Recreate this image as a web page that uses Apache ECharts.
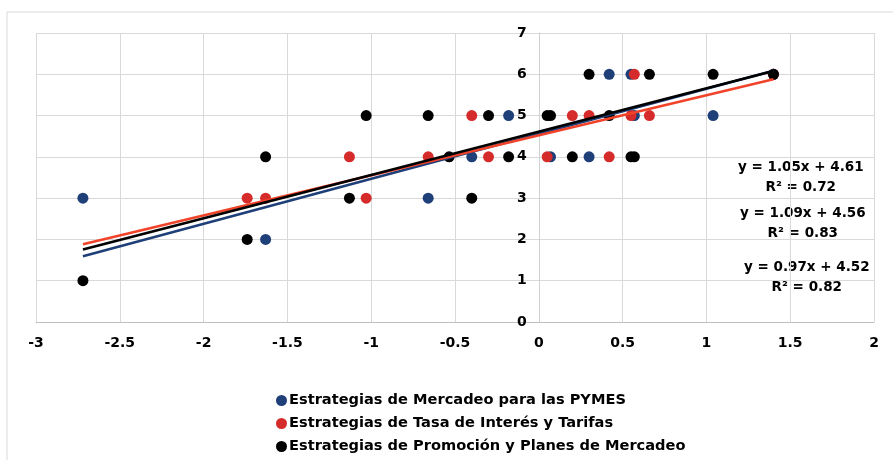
<!DOCTYPE html>
<html>
<head>
<meta charset="utf-8">
<script src="https://cdn.jsdelivr.net/npm/echarts@6/dist/echarts.min.js"></script>
<style>
  html, body { margin: 0; padding: 0; background: #fff; }
  #chart { width: 893px; height: 460px; }
</style>
</head>
<body>
<div id="chart"></div>
<script>
// puntos
const mercadeoX = [-2.72, -1.63, -0.66, -0.40, -0.18, 0.07, 0.30, 0.42, 0.55, 0.57, 1.04, 1.40]
const mercadeoY = [3, 2, 3, 4, 5, 4, 4, 6, 6, 5, 5, 6]

const tasaX = [-1.74, -1.63, -1.13, -1.03, -0.66, -0.40, -0.30, 0.05, 0.20, 0.30, 0.42, 0.55, 0.57, 0.66, 1.40]
const tasaY = [3, 3, 4, 3, 4, 5, 4, 4, 5, 5, 4, 5, 6, 5, 6]

const promocionX = [-2.72, -1.74, -1.63, -1.13, -1.03, -0.66, -0.535, -0.40, -0.30, -0.18, 0.05, 0.07, 0.20, 0.30, 0.42, 0.55, 0.57, 0.66, 1.04, 1.40]
const promocionY = [1, 2, 4, 3, 5, 5, 4, 3, 5, 4, 5, 5, 4, 6, 5, 4, 4, 6, 6, 6]

const seriesNames = [
  "Estrategias de Mercadeo para las PYMES",
  "Estrategias de Tasa de Interés y Tarifas",
  "Estrategias de Promoción y Planes de Mercadeo",
]

// lineas de tendencia: y = a*x + b
const trendSlope = [1.09, 0.97, 1.05]
const trendIntercept = [4.56, 4.52, 4.61]
const trendRange = [-2.72, 1.40]
const equationLabels = [
  "y = 1.05x + 4.61\nR² = 0.72",
  "y = 1.09x + 4.56\nR² = 0.83",
  "y = 0.97x + 4.52\nR² = 0.82",
]

const xMin = -3
const xMax = 2

const dotColors = ["#1f3f78", "#d62b2b", "#000000"]
const lineColors = ["#1f3f78", "#f0432a", "#000000"]

function pairs(xs, ys) {
  return xs.map((x, i) => [x, ys[i]])
}

let myChart = echarts.init(document.getElementById("chart"))

const points = [pairs(mercadeoX, mercadeoY), pairs(tasaX, tasaY), pairs(promocionX, promocionY)]

let series = []
points.forEach((d, i) => {
  series.push({
    name: seriesNames[i],
    type: "scatter",
    data: d,
    symbolSize: 11,
    itemStyle: { color: dotColors[i], opacity: 1 },
    z: 2,
  })
})
trendSlope.forEach((a, i) => {
  series.push({
    name: "tendencia" + i,
    type: "line",
    data: trendRange.map((x) => [x, a * x + trendIntercept[i]]),
    showSymbol: false,
    symbol: "none",
    lineStyle: { color: lineColors[i], width: 2.6 },
    z: 3,
    silent: true,
  })
})

const labelFont = {
  color: "#000",
  fontWeight: "bold",
  fontSize: 14,
  fontFamily: "DejaVu Sans, sans-serif",
}

function eqText(i, left, top) {
  return {
    type: "text",
    left: left,
    top: top,
    style: Object.assign({ text: equationLabels[i], textAlign: "center", lineHeight: 20 }, labelFont, { fontSize: 13.5 }),
  }
}

const gridLeft = 36
const gridRight = 19
const plotWidth = 893 - gridLeft - gridRight
// el eje Y cruza en x = 0
const yAxisOffset = -((0 - xMin) / (xMax - xMin)) * plotWidth

myChart.setOption({
  animation: false,
  backgroundColor: "#fff",
  grid: {
    left: gridLeft,
    right: gridRight,
    top: 33,
    bottom: 138,
  },
  xAxis: {
    type: "value",
    min: xMin,
    max: xMax,
    interval: 0.5,
    axisLine: { onZero: false, lineStyle: { color: "#bfbfbf" } },
    axisTick: { show: false },
    axisLabel: Object.assign({ margin: 14 }, labelFont),
    splitLine: { show: true, lineStyle: { color: "#d9d9d9" } },
  },
  yAxis: {
    type: "value",
    min: 0,
    max: 7,
    interval: 1,
    position: "left",
    offset: yAxisOffset,
    axisLine: { show: true, onZero: false, lineStyle: { color: "#d0d0d0" } },
    axisTick: { show: false },
    axisLabel: Object.assign({ margin: 12 }, labelFont),
    splitLine: { show: true, lineStyle: { color: "#d9d9d9" } },
  },
  legend: {
    data: seriesNames,
    orient: "vertical",
    left: 276,
    top: 393,
    padding: 0,
    itemGap: 8,
    itemWidth: 11,
    itemHeight: 11,
    icon: "circle",
    textStyle: Object.assign({}, labelFont, { fontSize: 14.6, padding: [0, 0, 0, -3] }),
  },
  graphic: [
    {
      type: "rect",
      shape: { x: 7, y: 12, width: 1000, height: 1000 },
      style: { fill: "none", stroke: "#d9d9d9", lineWidth: 1 },
      silent: true,
      z: -1,
    },
    eqText(0, 738, 157),
    eqText(1, 740, 203),
    eqText(2, 744, 257),
  ],
  series: series,
})
</script>
</body>
</html>
